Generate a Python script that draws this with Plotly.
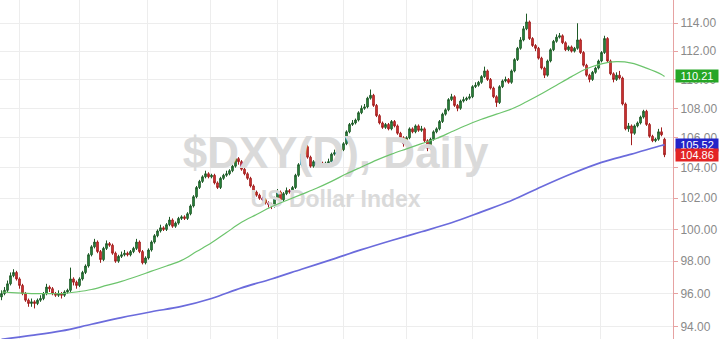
import math
import plotly.graph_objects as go

# ---------------- data ----------------
opens = [
95.8, 96.0, 96.2, 96.6, 97.1, 97.3, 96.9, 96.5, 96.0, 95.6,
95.4, 95.5, 95.4, 95.6, 95.7, 96.0, 96.4, 96.3, 96.0, 95.9,
96.0, 95.9, 96.1, 96.2, 96.9, 96.7, 96.5, 96.9, 97.3, 97.7,
98.4, 98.9, 99.2, 98.6, 98.1, 98.8, 99.1, 99.0, 98.5, 98.0,
98.3, 98.4, 98.5, 98.4, 98.6, 98.8, 99.2, 98.6, 97.9, 98.2,
98.7, 99.2, 99.6, 99.9, 100.1, 100.0, 100.3, 100.6, 100.2, 100.4,
100.7, 100.8, 100.7, 101.0, 101.5, 102.1, 102.7, 103.1, 103.4, 103.6,
103.4, 103.5, 103.0, 102.7, 103.3, 103.5, 103.6, 103.8, 104.1, 104.6,
104.4, 103.9, 103.6, 103.3, 102.8, 102.4, 102.2, 102.0, 101.9, 101.7,
101.6, 101.5, 102.0, 102.4, 101.9, 102.3, 102.5, 102.4, 102.7, 103.5,
104.2, 104.9, 105.4, 104.7, 104.1, 104.4, 104.2, 104.3, 104.1, 104.3,
104.4, 104.9, 105.0, 105.1, 105.2, 105.6, 106.4, 106.9, 107.0, 107.2,
107.7, 108.0, 108.1, 108.7, 108.9, 108.2, 107.5, 107.0, 106.7, 106.9,
106.6, 107.1, 106.8, 106.3, 106.0, 105.6, 106.0, 106.6, 106.4, 106.8,
106.5, 106.6, 105.8, 105.3, 105.9, 106.4, 106.6, 107.1, 107.6, 107.9,
108.6, 108.8, 108.2, 108.0, 108.5, 108.6, 108.7, 108.8, 109.5, 109.6,
109.8, 110.2, 110.6, 110.0, 109.4, 108.8, 108.4, 109.5, 109.9, 110.0,
109.8, 110.6, 111.4, 112.2, 112.8, 113.6, 114.1, 112.9, 112.4, 112.2,
111.5, 110.8, 110.3, 111.3, 112.1, 112.7, 113.0, 113.1, 112.6, 112.1,
112.3, 112.0, 112.2, 112.8, 111.9, 111.0, 110.3, 110.0, 110.5, 110.8,
111.3, 111.9, 112.9, 111.3, 110.4, 110.0, 110.3, 110.1, 108.3, 106.6,
106.8, 106.3, 106.8, 107.0, 107.4, 107.8, 106.9, 106.1, 105.8, 105.9,
106.4, 105.9,
]
closes = [
96.0, 96.2, 96.6, 97.1, 97.3, 96.9, 96.5, 96.0, 95.6, 95.4,
95.5, 95.4, 95.6, 95.7, 96.0, 96.4, 96.3, 96.0, 95.9, 96.0,
95.9, 96.1, 96.2, 96.9, 96.7, 96.5, 96.9, 97.3, 97.7, 98.4,
98.9, 99.2, 98.6, 98.1, 98.8, 99.1, 99.0, 98.5, 98.0, 98.3,
98.4, 98.5, 98.4, 98.6, 98.8, 99.2, 98.6, 97.9, 98.2, 98.7,
99.2, 99.6, 99.9, 100.1, 100.0, 100.3, 100.6, 100.2, 100.4, 100.7,
100.8, 100.7, 101.0, 101.5, 102.1, 102.7, 103.1, 103.4, 103.6, 103.4,
103.5, 103.0, 102.7, 103.3, 103.5, 103.6, 103.8, 104.1, 104.6, 104.4,
103.9, 103.6, 103.3, 102.8, 102.4, 102.2, 102.0, 101.9, 101.7, 101.6,
101.5, 102.0, 102.4, 101.9, 102.3, 102.5, 102.4, 102.7, 103.5, 104.2,
104.9, 105.4, 104.7, 104.1, 104.4, 104.2, 104.3, 104.1, 104.3, 104.4,
104.9, 105.0, 105.1, 105.2, 105.6, 106.4, 106.9, 107.0, 107.2, 107.7,
108.0, 108.1, 108.7, 108.9, 108.2, 107.5, 107.0, 106.7, 106.9, 106.6,
107.1, 106.8, 106.3, 106.0, 105.6, 106.0, 106.6, 106.4, 106.8, 106.5,
106.6, 105.8, 105.3, 105.9, 106.4, 106.6, 107.1, 107.6, 107.9, 108.6,
108.8, 108.2, 108.0, 108.5, 108.6, 108.7, 108.8, 109.5, 109.6, 109.8,
110.2, 110.6, 110.0, 109.4, 108.8, 108.4, 109.5, 109.9, 110.0, 109.8,
110.6, 111.4, 112.2, 112.8, 113.6, 114.1, 112.9, 112.4, 112.2, 111.5,
110.8, 110.3, 111.3, 112.1, 112.7, 113.0, 113.1, 112.6, 112.1, 112.3,
112.0, 112.2, 112.8, 111.9, 111.0, 110.3, 110.0, 110.5, 110.8, 111.3,
111.9, 112.9, 111.3, 110.4, 110.0, 110.3, 110.1, 108.3, 106.6, 106.8,
106.3, 106.8, 107.0, 107.4, 107.8, 106.9, 106.1, 105.8, 105.9, 106.4,
106.2, 104.86,
]
highs = [
96.2, 96.4, 96.8, 97.3, 97.5, 97.4, 97.0, 96.6, 96.1, 95.7,
95.7, 95.6, 95.7, 95.9, 96.1, 96.6, 96.5, 96.4, 96.1, 96.2,
96.1, 96.2, 96.3, 97.6, 97.0, 96.8, 97.0, 97.4, 97.8, 98.5,
99.0, 99.4, 99.3, 98.7, 98.9, 99.3, 99.2, 99.1, 98.6, 98.4,
98.6, 98.7, 98.6, 98.7, 98.9, 99.4, 99.3, 98.7, 98.3, 98.8,
99.3, 99.7, 100.0, 100.3, 100.2, 100.4, 100.8, 100.7, 100.5, 100.8,
100.9, 100.9, 101.1, 101.6, 102.2, 102.8, 103.2, 103.5, 103.8, 103.7,
103.6, 103.6, 103.1, 103.4, 103.6, 103.8, 103.9, 104.2, 104.8, 104.7,
104.5, 104.0, 103.7, 103.4, 102.9, 102.5, 102.3, 102.1, 102.0, 101.8,
101.7, 102.1, 102.6, 102.5, 102.4, 102.7, 102.6, 102.8, 103.6, 104.3,
105.0, 105.6, 105.5, 104.8, 104.5, 104.5, 104.4, 104.4, 104.4, 104.6,
105.0, 105.2, 105.2, 105.4, 105.7, 106.5, 107.0, 107.2, 107.3, 107.8,
108.2, 108.3, 108.8, 109.3, 109.0, 108.3, 107.6, 107.1, 107.0, 107.0,
107.2, 107.2, 106.9, 106.4, 106.1, 106.1, 106.7, 106.7, 106.9, 106.9,
106.8, 106.7, 105.9, 106.0, 106.5, 106.7, 107.2, 107.7, 108.0, 108.7,
109.0, 108.9, 108.3, 108.6, 108.8, 108.8, 109.0, 109.6, 109.8, 109.9,
110.3, 110.9, 110.7, 110.1, 109.5, 108.9, 109.6, 110.0, 110.2, 110.1,
110.7, 111.5, 112.3, 113.0, 113.8, 114.7, 114.2, 113.0, 112.5, 112.3,
111.6, 110.9, 111.4, 112.2, 112.8, 113.2, 113.3, 113.2, 112.7, 112.4,
112.4, 112.3, 114.0, 112.9, 112.0, 111.1, 110.4, 110.6, 110.9, 111.4,
112.0, 113.1, 113.0, 111.4, 110.5, 110.5, 110.6, 110.2, 108.4, 107.0,
106.9, 106.9, 107.1, 107.5, 107.9, 107.9, 107.0, 106.2, 106.0, 106.6,
106.7, 106.0,
]
lows = [
95.6, 95.9, 96.1, 96.5, 97.0, 96.8, 96.3, 95.9, 95.5, 95.2,
95.2, 95.1, 95.3, 95.5, 95.6, 95.9, 96.1, 95.9, 95.8, 95.8,
95.7, 95.8, 96.0, 96.1, 96.5, 96.3, 96.4, 96.8, 97.2, 97.6,
98.3, 98.8, 98.5, 97.9, 98.0, 98.7, 98.9, 98.4, 97.9, 97.9,
98.2, 98.3, 98.3, 98.3, 98.5, 98.7, 98.5, 97.8, 97.8, 98.1,
98.6, 99.1, 99.5, 99.8, 99.9, 99.9, 100.2, 100.1, 100.1, 100.3,
100.6, 100.6, 100.6, 100.9, 101.4, 102.0, 102.6, 103.0, 103.3, 103.3,
103.3, 102.9, 102.6, 102.6, 103.2, 103.4, 103.5, 103.7, 104.0, 104.2,
103.8, 103.5, 103.2, 102.7, 102.3, 102.1, 101.9, 101.8, 101.6, 101.4,
101.3, 101.4, 101.9, 101.8, 101.8, 102.2, 102.3, 102.3, 102.6, 103.4,
104.1, 104.8, 104.6, 104.0, 104.0, 104.1, 104.1, 104.0, 104.0, 104.2,
104.3, 104.8, 104.9, 105.0, 105.1, 105.5, 106.3, 106.8, 106.9, 107.1,
107.6, 107.9, 108.0, 108.6, 108.1, 107.4, 106.9, 106.6, 106.6, 106.5,
106.5, 106.7, 106.2, 105.9, 105.4, 105.5, 105.9, 106.3, 106.3, 106.4,
106.4, 105.7, 105.1, 105.2, 105.8, 106.3, 106.5, 107.0, 107.5, 107.8,
108.5, 108.1, 107.8, 107.9, 108.4, 108.5, 108.6, 108.7, 109.4, 109.5,
109.7, 110.1, 109.9, 109.3, 108.7, 108.1, 108.3, 109.4, 109.8, 109.7,
109.7, 110.5, 111.3, 112.1, 112.7, 113.5, 112.8, 112.3, 112.0, 111.4,
110.7, 110.1, 110.2, 111.2, 112.0, 112.6, 112.9, 112.5, 112.0, 112.0,
111.9, 111.9, 112.1, 111.8, 110.9, 110.2, 109.8, 109.9, 110.4, 110.7,
111.2, 111.8, 111.2, 110.3, 109.8, 109.9, 110.0, 108.2, 106.5, 106.4,
105.5, 106.2, 106.7, 106.9, 107.3, 106.8, 106.0, 105.7, 105.7, 105.8,
106.1, 104.7,
]

ma50_idx = [0, 5, 10, 15, 20, 25, 30, 35, 40, 45, 50, 55, 60, 65, 70, 75, 80,
            85, 90, 95, 100, 105, 110, 115, 120, 125, 130, 135, 140, 145, 150,
            155, 160, 165, 170, 175, 180, 185, 190, 195, 200, 205, 210, 215, 220, 221]
ma50_val = [96.1, 96.05, 96.0, 96.0, 96.0, 96.1, 96.25, 96.5, 96.75, 97.05, 97.38,
            97.7, 98.05, 98.6, 99.15, 99.8, 100.45, 100.95, 101.45, 101.85, 102.25,
            102.65, 103.1, 103.6, 104.05, 104.5, 104.9, 105.25, 105.6, 105.95, 106.4,
            106.85, 107.25, 107.6, 107.95, 108.45, 109.0, 109.6, 110.2, 110.75, 111.1,
            111.25, 111.15, 110.8, 110.35, 110.21]

ma200_idx = [0, 10, 20, 30, 40, 50, 60, 70, 80, 90, 100, 110, 120, 130, 140, 150,
             160, 170, 180, 190, 200, 210, 220, 221]
ma200_val = [93.25, 93.48, 93.75, 94.15, 94.55, 94.9, 95.22, 95.7, 96.35, 96.9, 97.5,
             98.1, 98.72, 99.3, 99.85, 100.42, 101.12, 101.85, 102.75, 103.6, 104.35,
             104.9, 105.48, 105.52]

price_ticks = [94, 96, 98, 100, 102, 104, 106, 108, 110, 112, 114]
month_start_idx = [6, 26, 48.5, 69.5, 92, 114, 135, 157, 178.5, 199.5]

last_close = closes[-1]
last_ma50 = ma50_val[-1]
last_ma200 = ma200_val[-1]

# ---------------- figure ----------------
days = list(range(len(closes)))
x_range = [-0.5, 223.83]
y_range = [math.log10(93.27), math.log10(115.70)]
x_mid = (x_range[0] + x_range[1]) / 2 - 0.3

fig = go.Figure()

# watermark (drawn first, beneath everything)
fig.add_trace(go.Scatter(
    x=[x_mid], y=[104.72], mode="text", text=["<b>$DXY(D), Daily</b>"],
    textfont=dict(family="Liberation Sans, Arial, sans-serif", size=44, color="#dadada"),
    textposition="middle center", hoverinfo="skip", showlegend=False))
fig.add_trace(go.Scatter(
    x=[x_mid], y=[101.8], mode="text", text=["<b>US Dollar Index</b>"],
    textfont=dict(family="Liberation Sans, Arial, sans-serif", size=23, color="#dadada"),
    textposition="middle center", hoverinfo="skip", showlegend=False))

fig.add_trace(go.Scatter(
    x=ma200_idx, y=ma200_val, mode="lines", line_shape="spline",
    line=dict(color="#6b6bdc", width=1.7), hoverinfo="skip", showlegend=False))
fig.add_trace(go.Scatter(
    x=ma50_idx, y=ma50_val, mode="lines", line_shape="spline",
    line=dict(color="#6cc46c", width=1.2), hoverinfo="skip", showlegend=False))

fig.add_trace(go.Candlestick(
    x=days, open=opens, high=highs, low=lows, close=closes,
    increasing=dict(line=dict(color="#1e5a27", width=1), fillcolor="#2f9446"),
    decreasing=dict(line=dict(color="#a11d1d", width=1), fillcolor="#e03b3b"),
    whiskerwidth=0, showlegend=False))

fig.update_layout(
    width=720, height=339,
    margin=dict(l=0, r=47, t=0, b=0),
    paper_bgcolor="white", plot_bgcolor="white",
    boxgap=0.25,
    xaxis=dict(range=x_range, rangeslider=dict(visible=False),
               tickvals=month_start_idx, showticklabels=False, ticks="",
               showgrid=True, gridcolor="#ededed", gridwidth=1, zeroline=False,
               showline=False, fixedrange=True),
    yaxis=dict(type="log", range=y_range, side="right",
               tickvals=price_ticks, ticktext=[f"{v:.2f}" for v in price_ticks],
               tickfont=dict(family="Liberation Sans, Arial, sans-serif", size=12, color="#8a8a8a"),
               ticks="outside", ticklen=4, tickcolor="#e6a2a2",
               showline=True, linecolor="#e6a2a2", linewidth=1,
               showgrid=True, gridcolor="#ededed", gridwidth=1, zeroline=False),
    font=dict(family="Liberation Sans, Arial, sans-serif"),
)

for val, col in [(last_ma50, "#26a626"), (last_ma200, "#2323c8"), (last_close, "#e32424")]:
    fig.add_annotation(
        xref="paper", x=1, xanchor="left", xshift=2,
        yref="y", y=math.log10(val), yanchor="middle",
        text=f"{val:.2f}", showarrow=False,
        font=dict(family="Liberation Sans, Arial, sans-serif", size=11, color="white"),
        bgcolor=col, borderpad=0, width=42, align="center")

fig.write_html("out.html", config={"displayModeBar": False})
